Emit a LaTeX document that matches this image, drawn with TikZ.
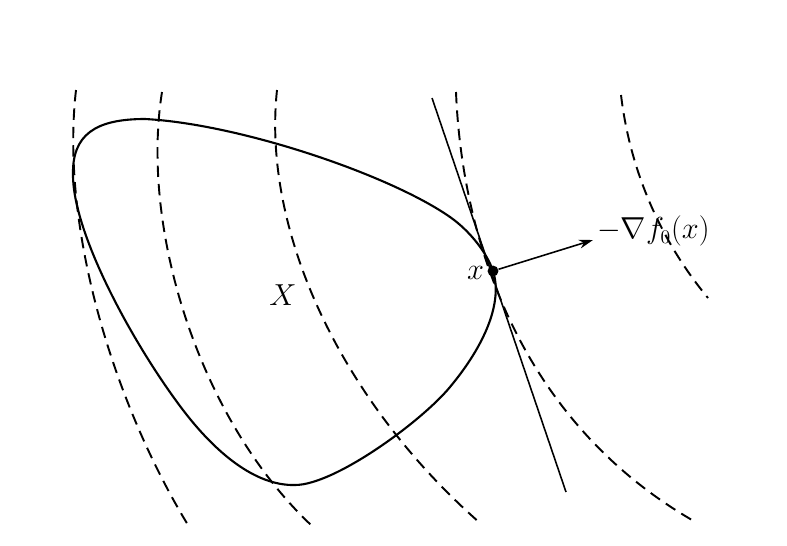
\documentclass[tikz,border=0pt]{standalone}
\usetikzlibrary{arrows.meta}

\tikzset{
  levelset/.style={line width=1.1pt, dash pattern=on 6.5pt off 4pt},
  setedge/.style={line width=1.2pt},
  lbl/.style={font=\fontsize{16}{19}\selectfont}
}

\begin{document}
\begin{tikzpicture}[x=0.02cm, y=-0.02cm]
    \useasboundingbox (0,0) rectangle (787,545);

    \draw[levelset] (76,90) .. controls (60,230) and (115,405) .. (188,525);
    \draw[levelset] (162,92) .. controls (140,230) and (200,420) .. (311,525);
    \draw[levelset] (277,90) .. controls (262,230) and (340,400) .. (480,523);
    \draw[levelset] (456,92) .. controls (462,240) and (520,420) .. (692,520);
    \draw[levelset] (621,95) .. controls (630,170) and (660,240) .. (708,298);

    \node[circle, fill, inner sep=2.2pt] (pt) at (493,271) {};

    \draw[setedge] (73,175) .. controls (72,135) and (95,119) .. (145,119)
      .. controls (240,124) and (390,175) .. (450,217)
      .. controls (470,231) and (487,253) .. (pt.center)
      .. controls (503,302) and (485,345) .. (450,387)
      .. controls (422,421) and (335,485) .. (295,485)
      .. controls (255,486) and (215,452) .. (183,410)
      .. controls (135,347) and (73,235) .. cycle;

    \coordinate (tanA) at (432,98);
    \coordinate (tanB) at (566,492);
    \coordinate (tip) at (593,240);

    \draw[line width=0.9pt] (tanA) -- (tanB);
    \path[line width=0.9pt, -{Stealth[length=8pt, width=5pt]}] (pt) edge (tip);

    \node[lbl, anchor=west, inner sep=1pt] (grad) at (595,231) {$-\nabla f_0(x)$};
    \node[lbl, anchor=east, inner sep=1pt] (xlbl) at (486,273) {$x$};
    \node[lbl] (setX) at (283,295) {$X$};
  \end{tikzpicture}
\end{document}
